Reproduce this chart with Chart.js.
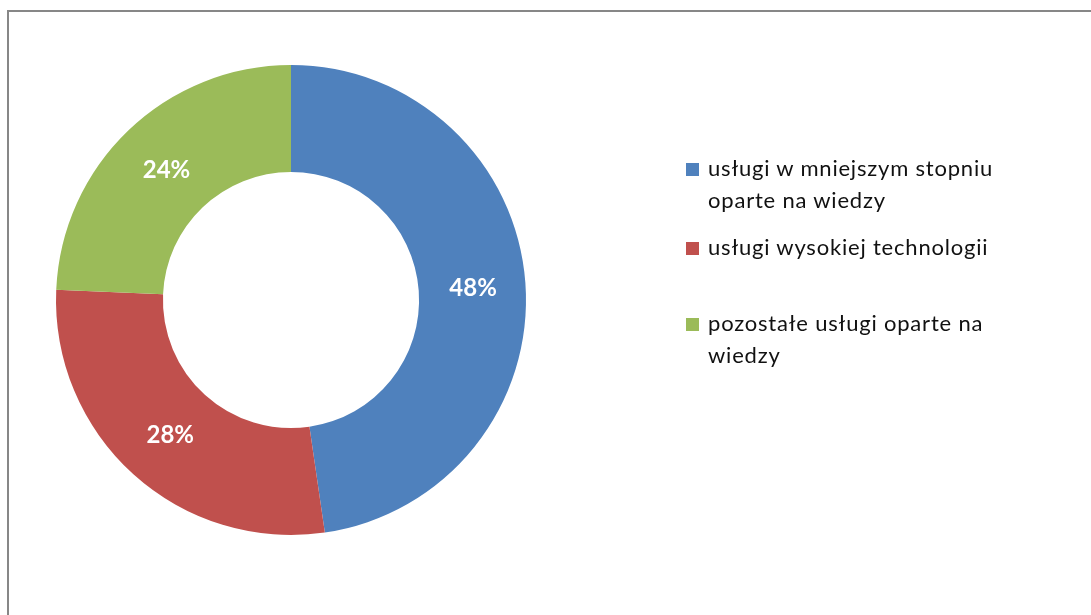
<!DOCTYPE html>
<html>
<head>
<meta charset="utf-8">
<script src="https://cdn.jsdelivr.net/npm/chart.js@4"></script>
<style>
  html, body { margin: 0; padding: 0; background: #fff; overflow: hidden; }
  #wrap { position: relative; width: 1091px; height: 615px; }
  #frame { position: absolute; left: 7px; top: 10px; width: 1200px; height: 800px; border: 2px solid #878787; }
  #pieCanvas { position: absolute; left: 0; top: 0; }
  #legend { position: absolute; left: 0; top: 0; font-family: Lato, sans-serif; font-size: 22px; letter-spacing: 0.8px; color: #111; }
  .item { position: absolute; left: 686px; width: 360px; line-height: 32px; }
  .box { position: absolute; left: 0; top: 11px; width: 13px; height: 13px; }
  .txt { margin-left: 22px; }
</style>
</head>
<body>
<div id="wrap">
  <div id="frame"></div>
  <canvas id="pieCanvas" width="1091" height="615"></canvas>
  <div id="legend"></div>
</div>
<script>
const categories = [
    "usługi w mniejszym stopniu oparte na wiedzy",
    "usługi wysokiej technologii",
    "pozostałe usługi oparte na wiedzy"
];
const legendLines = [
    ["usługi w mniejszym stopniu", "oparte na wiedzy"],
    ["usługi wysokiej technologii"],
    ["pozostałe usługi oparte na", "wiedzy"]
];
const shares = [47.7, 28.0, 24.3];
const colors = ['#4F81BD', '#C0504D', '#9BBB59'];
const legendTops = [152, 231, 307];

// percent labels drawn at the middle of each arc
const sliceLabels = {
    id: 'sliceLabels',
    afterDatasetsDraw(chart) {
        const ctx = chart.ctx;
        const meta = chart.getDatasetMeta(0);
        ctx.save();
        ctx.font = 'bold 24px Lato, sans-serif';
        ctx.fillStyle = '#fff';
        ctx.textAlign = 'center';
        ctx.textBaseline = 'middle';
        meta.data.forEach((arc, i) => {
            const p = arc.tooltipPosition();
            ctx.fillText(Math.round(shares[i]) + '%', p.x + 1, p.y + 1);
        });
        ctx.restore();
    }
};

const pieCanvas = document.getElementById("pieCanvas");
window.pieChart = new Chart(pieCanvas, {
    type: "doughnut",
    data: {
        labels: categories,
        datasets: [{
            data: shares,
            backgroundColor: colors,
            borderWidth: 0,
        }],
    },
    options: {
        responsive: false,
        animation: false,
        cutout: '54.5%',
        layout: { padding: { left: 56, right: 565, top: 65, bottom: 80 } },
        plugins: {
            legend: { display: false },
            tooltip: { enabled: false }
        }
    },
    plugins: [sliceLabels]
});

// legend on the right, built from the same arrays
const legend = document.getElementById("legend");
legendLines.forEach((lines, i) => {
    const item = document.createElement("div");
    item.className = "item";
    item.style.top = legendTops[i] + "px";
    item.innerHTML = '<span class="box" style="background:' + colors[i] + '"></span>' +
        '<div class="txt">' + lines.join('<br>') + '</div>';
    legend.appendChild(item);
});
</script>
</body>
</html>
